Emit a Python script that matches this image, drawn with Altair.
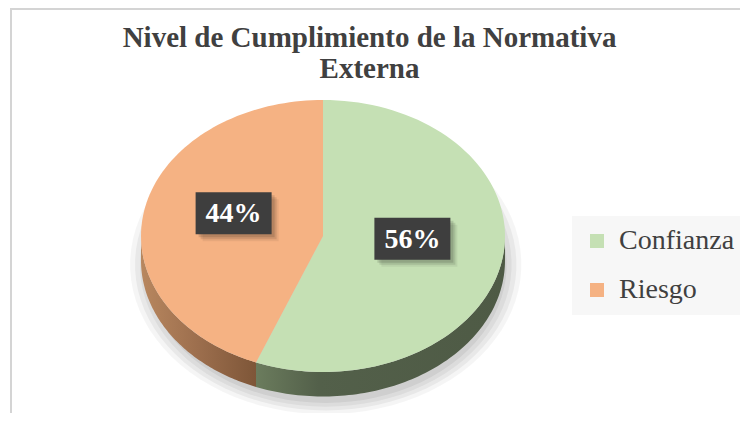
import altair as alt
import pandas as pd

# ---- data ----
categories = ["Confianza", "Riesgo"]
values = [56, 44]
labels = ["56%", "44%"]
top_colors = ["#c5e0b4", "#f5b283"]
title_lines = ["Nivel de Cumplimiento de la Normativa", "Externa"]

df = pd.DataFrame({"cat": categories, "value": values, "label": labels,
                   "idx": list(range(len(categories)))})

# ---- layout / style ----
W, H = 732, 405
CX, CY, RX, RY = 315, 228, 182, 136
N = 90
DEPTH = 0.18
SERIF = "Liberation Serif"

xs = alt.Scale(domain=[-1, 1], range=[CX - RX, CX + RX])
ys = alt.Scale(domain=[-1, 1], range=[CY + RY, CY - RY])
X = lambda f: alt.X(f, type="quantitative", scale=xs, axis=None)
Y = lambda f: alt.Y(f, type="quantitative", scale=ys, axis=None)

base = (
    alt.Chart(df)
    .transform_joinaggregate(total="sum(value)")
    .transform_window(cum="sum(value)", sort=[alt.SortField("idx")], frame=[None, 0])
    .transform_calculate(
        start="2*PI*(datum.cum-datum.value)/datum.total",
        end="2*PI*datum.cum/datum.total",
    )
    .transform_calculate(mid="(datum.start+datum.end)/2")
)

# soft shadow under the pie
shadows = []
for s, op in [(1.0, 0.04), (0.975, 0.05), (0.95, 0.05), (0.925, 0.06)]:
    sh = (
        alt.Chart(df)
        .transform_aggregate(total="sum(value)")
        .transform_calculate(k=f"sequence(0, {N + 1})")
        .transform_flatten(["k"])
        .transform_calculate(ang=f"2*PI*datum.k/{N}")
        .transform_calculate(px=f"0.015 + {1.075 * s}*sin(datum.ang)",
                             py=f"-0.21 + {1.10 * s}*cos(datum.ang)")
        .mark_line(filled=True, interpolate="linear-closed", fill="#000000",
                   fillOpacity=op, strokeWidth=0)
        .encode(x=X("px"), y=Y("py"), order="k:Q")
    )
    shadows.append(sh)

# side (thickness) of the pie, visible front half only
side_base = (
    base.transform_calculate(a="max(datum.start, PI/2)", b="min(datum.end, 3*PI/2)")
    .transform_filter("datum.a < datum.b")
    .transform_calculate(k=f"sequence(0, {2 * N + 2})")
    .transform_flatten(["k"])
    .transform_calculate(j=f"datum.k <= {N} ? datum.k : {2 * N + 1} - datum.k")
    .transform_calculate(ang=f"datum.a + (datum.b-datum.a)*datum.j/{N}")
    .transform_calculate(px="sin(datum.ang)",
                         py=f"cos(datum.ang) - (datum.k > {N} ? {DEPTH} : 0)")
)
side_grad = {
    "Confianza": alt.LinearGradient(
        gradient="linear", x1=0, x2=1, y1=0, y2=0,
        stops=[alt.GradientStop(color="#6b7c5d", offset=0),
               alt.GradientStop(color="#53604a", offset=0.25),
               alt.GradientStop(color="#4e5a45", offset=1)]),
    "Riesgo": alt.LinearGradient(
        gradient="linear", x1=0, x2=1, y1=0, y2=0,
        stops=[alt.GradientStop(color="#b8875f", offset=0),
               alt.GradientStop(color="#9c6e4d", offset=0.5),
               alt.GradientStop(color="#7e5638", offset=1)]),
}
sides = [
    side_base.transform_filter(alt.datum.cat == c)
    .mark_line(filled=True, interpolate="linear-closed", fill=side_grad[c], strokeWidth=0)
    .encode(x=X("px"), y=Y("py"), order="k:Q")
    for c in categories
]

# top face
top = (
    base.transform_calculate(k=f"sequence(-1, {N + 1})")
    .transform_flatten(["k"])
    .transform_calculate(ang=f"datum.start + (datum.end-datum.start)*max(datum.k,0)/{N}")
    .transform_calculate(px="datum.k < 0 ? 0 : sin(datum.ang)",
                         py="datum.k < 0 ? 0 : cos(datum.ang)")
    .mark_line(filled=True, interpolate="linear-closed", strokeWidth=0)
    .encode(
        x=X("px"), y=Y("py"), order="k:Q",
        color=alt.Color("cat:N", scale=alt.Scale(domain=categories, range=top_colors),
                        legend=alt.Legend(
                            orient="none", legendX=564, legendY=208, title=None,
                            fillColor="#f7f7f7", padding=11, symbolType="square",
                            symbolSize=196, symbolStrokeWidth=0, labelFont=SERIF,
                            labelFontSize=28, labelColor="#404040", rowPadding=21,
                            labelOffset=8, labelLimit=300)),
    )
)

# data labels in dark boxes
lab = base.transform_calculate(lx="0.5*sin(datum.mid)", ly="0.5*cos(datum.mid)")
BOX = "M-1,-0.553L1,-0.553L1,0.553L-1,0.553Z"
box_shadow = [
    lab.mark_point(shape=BOX, size=5776, filled=True, color="#000000", opacity=op,
                   xOffset=d, yOffset=-10 + d)
    .encode(x=X("lx"), y=Y("ly"))
    for d, op in [(3, 0.12), (5, 0.10), (7, 0.06)]
]
boxes = lab.mark_point(shape=BOX, size=5776, filled=True, color="#3e3e3e", opacity=1,
                       yOffset=-10).encode(x=X("lx"), y=Y("ly"))
texts = lab.mark_text(font=SERIF, fontWeight="bold", fontSize=28, color="#ffffff",
                      baseline="middle", align="center", yOffset=-9).encode(
    x=X("lx"), y=Y("ly"), text="label:N")

# chart frame (left and top edges) and title
one = alt.Data(values=[{"o": 0}])
frame_l = alt.Chart(one).mark_rule(color="#d4d4d4", strokeWidth=2).encode(
    x=alt.value(3), y=alt.value(0), y2=alt.value(H))
frame_t = alt.Chart(one).mark_rule(color="#d4d4d4", strokeWidth=2).encode(
    x=alt.value(3), x2=alt.value(W), y=alt.value(1))
title = alt.Chart(one).mark_text(
    text=title_lines, font=SERIF, fontWeight="bold", fontSize=29, color="#404040",
    align="center", baseline="alphabetic", lineHeight=31,
).encode(x=alt.value(361.5), y=alt.value(39))

chart = alt.layer(
    *shadows, *sides, top, *box_shadow, boxes, texts, frame_l, frame_t, title
).properties(
    width=W, height=H, padding=0, autosize="none", background="#ffffff"
).configure_view(stroke=None)

chart.save("out.html", embed_options={"renderer": "svg", "actions": False})
